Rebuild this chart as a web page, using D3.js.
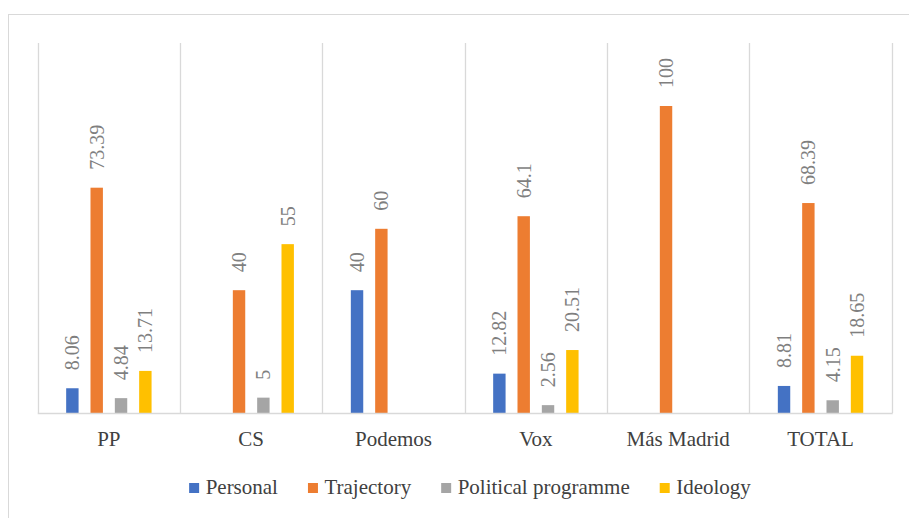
<!DOCTYPE html>
<html><head><meta charset="utf-8">
<script src="https://cdn.jsdelivr.net/npm/d3@7"></script>
<style>html,body{margin:0;padding:0;background:#fff;}svg{display:block;}
svg text{font-family:"Liberation Serif","Times New Roman","DejaVu Serif",serif;}</style>
</head><body><svg id="c" width="909" height="518"></svg>
<script>
const categories = ["PP", "CS", "Podemos", "Vox", "Más Madrid", "TOTAL"];
const seriesNames = ["Personal", "Trajectory", "Political programme", "Ideology"];
const personal = [8.06, null, 40, 12.82, null, 8.81];
const trajectory = [73.39, 40, 60, 64.1, 100, 68.39];
const politicalProgramme = [4.84, 5, null, 2.56, null, 4.15];
const ideology = [13.71, 55, null, 20.51, null, 18.65];
const colors = ["#4472C4", "#ED7D31", "#A5A5A5", "#FFC000"];

(function () {
const seriesValues = [personal, trajectory, politicalProgramme, ideology];
const svg = d3.select("#c");

svg.append("rect").attr("x", 8.5).attr("y", 14.5).attr("width", 1000).attr("height", 1000)
  .attr("fill", "none").attr("stroke", "#d9d9d9").attr("stroke-width", 1);

const pLeft = 37.7, pRight = 891.7, pTop = 44.6, pBottom = 413;
const x0 = d3.scaleBand().domain(categories).range([pLeft, pRight]).padding(0);
const x1 = d3.scaleBand().domain(seriesNames).range([0, x0.bandwidth()]).paddingInner(0.49).paddingOuter(1.17);
const y = d3.scaleLinear().domain([0, 120]).range([pBottom, pTop]);

const bounds = categories.map(c => x0(c)).concat([pRight]);
svg.append("g").selectAll("line").data(bounds).join("line")
  .attr("x1", d => Math.round(d) + 0.5).attr("x2", d => Math.round(d) + 0.5)
  .attr("y1", 43).attr("y2", pBottom)
  .attr("stroke", "#d9d9d9").attr("stroke-width", 1.3);

const flat = [];
categories.forEach((c, i) => seriesNames.forEach((s, j) => {
  const v = seriesValues[j][i];
  if (v !== null) flat.push({c, s, j, v});
}));

svg.append("g").selectAll("rect").data(flat).join("rect")
  .attr("x", d => x0(d.c) + x1(d.s)).attr("width", x1.bandwidth())
  .attr("y", d => y(d.v)).attr("height", d => y(0) - y(d.v))
  .attr("fill", d => colors[d.j]);

svg.append("line").attr("x1", pLeft).attr("x2", pRight + 1).attr("y1", pBottom + 0.5).attr("y2", pBottom + 0.5)
  .attr("stroke", "#d9d9d9").attr("stroke-width", 1.3);

svg.append("g").selectAll("text").data(flat).join("text")
  .attr("transform", d => `translate(${x0(d.c) + x1(d.s) + x1.bandwidth() / 2},${y(d.v) - 18}) rotate(-90)`)
  .attr("dy", "0.34em")
  .attr("text-anchor", "start")
  .style("font-size", "20px").attr("fill", "#7f7f7f")
  .text(d => d.v);

const xAxis = d3.axisBottom(x0).tickSize(0).tickPadding(0);
const ax = svg.append("g").attr("transform", `translate(0,${pBottom})`).call(xAxis);
ax.select(".domain").remove();
ax.attr("font-family", null).attr("font-size", null);
ax.selectAll("text").style("font-size", "21px").attr("fill", "#404040")
  .attr("dy", null).attr("y", 32.5);

const lg = svg.append("g");
const items = lg.selectAll("g").data(seriesNames).join("g");
items.append("rect").attr("width", 10).attr("height", 10).attr("y", 483).attr("fill", (d, i) => colors[i]);
items.append("text").attr("x", 16.5).attr("y", 494).style("font-size", "21px")
  .attr("fill", "#404040").text(d => d);
const widths = [];
items.each(function() { widths.push(d3.select(this).select("text").node().getComputedTextLength() + 16.5); });
const gap = 30;
const total = d3.sum(widths) + gap * (widths.length - 1);
let cx = 470 - total / 2;
items.each(function(d, i) { d3.select(this).attr("transform", `translate(${cx},0)`); cx += widths[i] + gap; });
})();
</script></body></html>
